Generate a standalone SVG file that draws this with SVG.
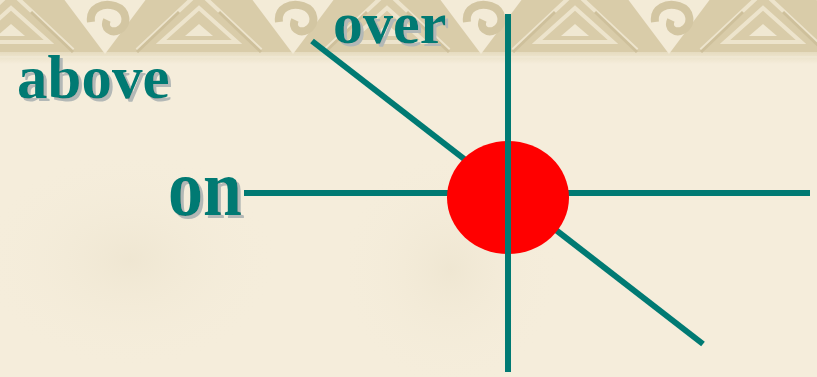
<svg xmlns="http://www.w3.org/2000/svg" width="817" height="377" viewBox="0 0 817 377">
<defs>
<style>
.lbl{font-family:"Liberation Serif","Times New Roman",serif;font-weight:bold;fill:#007A73;filter:url(#sh)}
.ln{stroke:#007A73;stroke-width:6;fill:none}
</style>
<filter id="sh" x="-10%" y="-10%" width="130%" height="130%">
<feDropShadow dx="3" dy="3" stdDeviation="0.4" flood-color="#B3B8B6" flood-opacity="1"/>
</filter>
<linearGradient id="fade" x1="0" y1="0" x2="0" y2="1">
<stop offset="0" stop-color="#E6DCC0"/>
<stop offset="1" stop-color="#F5EDDB"/>
</linearGradient>
<pattern id="key" patternUnits="userSpaceOnUse" x="11" y="0" width="188" height="64">
<rect x="0" y="0" width="188" height="52" fill="#D9CCA9"/>
<rect x="0" y="52" width="188" height="12" fill="url(#fade)"/>
<rect x="0" y="56" width="188" height="2" fill="#EFE7D2"/>
<polygon points="52,-2 136,-2 94,54" fill="#F3EBD7"/>
<path d="M80,22 C78,8 92,2 104,6 C116,10 118,24 108,30 C100,34 92,28 96,20" fill="none" stroke="#D3C6A2" stroke-width="8"/>
<g fill="none" stroke="#EDE4CC" stroke-width="4">
<polyline points="-62,50 0,-8 62,50"/>
<polyline points="126,50 188,-8 250,50"/>
<polygon points="-38,42 0,8 38,42"/>
<polygon points="150,42 188,8 226,42"/>
</g>
<polygon points="-14,36 0,24 14,36" fill="#F0E8D2"/>
<polygon points="174,36 188,24 202,36" fill="#F0E8D2"/>
<g fill="none" stroke="#CEC09B" stroke-width="3">
<line x1="62" y1="52" x2="20" y2="12"/>
<line x1="126" y1="52" x2="168" y2="12"/>
</g>
</pattern>
<radialGradient id="blob" cx="0.5" cy="0.5" r="0.5">
<stop offset="0" stop-color="#EBE2CC" stop-opacity="0.6"/>
<stop offset="1" stop-color="#F5EDDB" stop-opacity="0"/>
</radialGradient>
</defs>
<rect x="0" y="0" width="817" height="377" fill="#F5EDDB"/>
<ellipse cx="130" cy="260" rx="150" ry="110" fill="url(#blob)"/>
<ellipse cx="450" cy="270" rx="110" ry="120" fill="url(#blob)"/>
<rect x="0" y="0" width="817" height="64" fill="url(#key)"/>
<g id="connectors">
<line class="ln" x1="244" y1="193" x2="810" y2="193"/>
<line class="ln" x1="312" y1="41" x2="703" y2="344"/>
</g>
<g id="point">
<ellipse cx="508" cy="197.5" rx="61" ry="56.5" fill="#FF0000"/>
</g>
<g id="vertical">
<line class="ln" x1="508" y1="14" x2="508" y2="372"/>
</g>
<g id="label-over">
<text class="lbl" x="333" y="43" font-size="60">over</text>
</g>
<g id="label-above">
<text class="lbl" x="17" y="98" font-size="61">above</text>
</g>
<g id="label-on">
<text class="lbl" x="168" y="215" font-size="80" textLength="74" lengthAdjust="spacingAndGlyphs">on</text>
</g>
</svg>
